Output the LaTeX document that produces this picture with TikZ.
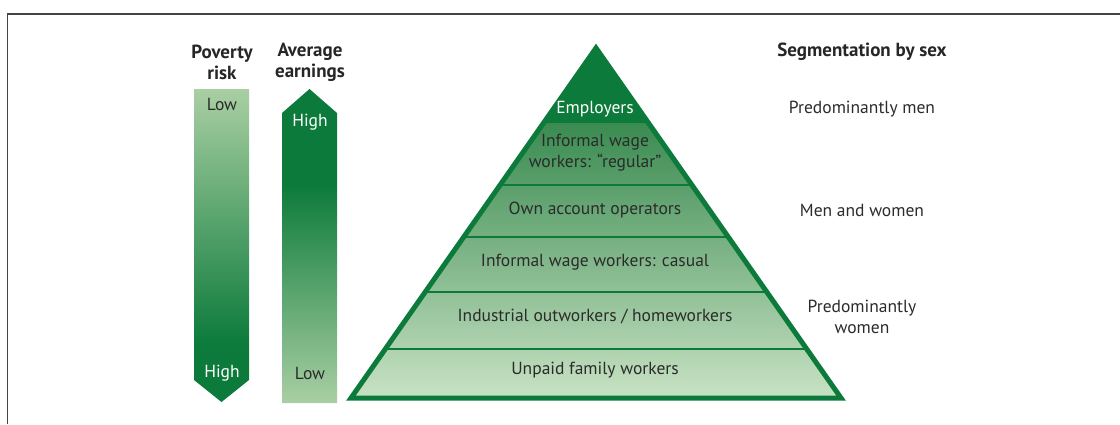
\documentclass[tikz,border=0pt]{standalone}
\usepackage{fontspec}
\setmainfont{PT Sans}
\usetikzlibrary{calc}
\definecolor{dkgreen}{HTML}{0B7A3A}
\definecolor{ltgreen}{HTML}{A9CFA3}
\definecolor{midgreen}{HTML}{3A8B51}
\definecolor{palegreen}{HTML}{C8E2C3}
\definecolor{txtgray}{HTML}{2B2B2B}
\definecolor{framegray}{HTML}{444444}
\pgfdeclareverticalshading{povshade}{100bp}{color(0bp)=(dkgreen); color(25bp)=(dkgreen); color(34bp)=(dkgreen); color(75bp)=(ltgreen); color(100bp)=(ltgreen)}
\pgfdeclareverticalshading{earnshade}{100bp}{color(0bp)=(ltgreen); color(25bp)=(ltgreen); color(60bp)=(dkgreen); color(100bp)=(dkgreen)}
\begin{document}
\begin{tikzpicture}[x=1pt, y=-1pt,
    txt/.style={text=txtgray, inner sep=0pt, align=center, font=\fontsize{17.5}{21}\selectfont},
    head/.style={txt, text=black!85, font=\fontsize{19}{21}\selectfont\bfseries},
    bandline/.style={dkgreen, line width=2pt},
    rim/.style={dkgreen, line width=5pt, line join=miter}]
    \useasboundingbox (0,0) rectangle (1120,424);
    \draw [framegray, line width=1.5pt] (7.5,424) -- (7.5,14) -- (1120,14);

    % bars
    \shade [shading=povshade] (194,89) -- (249,89) -- (249,380) -- (221.5,402) -- (194,380) -- cycle;
    \shade [shading=earnshade] (282,403) -- (282,113) -- (309.5,89) -- (337,113) -- (337,403) -- cycle;

    \node [head] (P) at (222,62.5) {Poverty\\risk};
    \node [head] (E) at (310,62.5) {Average\\earnings};
    \node [txt] (P1) at (222,104) {Low};
    \node [txt, text=white] (P2) at (222,373) {High};
    \node [txt, text=white] (E1) at (310,122) {High};
    \node [txt] (E2) at (310,373) {Low};

    % pyramid
    \coordinate (T) at (596,48);
    \coordinate (L) at (351,398);
    \coordinate (R) at (841,398);
    \shade [top color=midgreen, bottom color=palegreen] ($(T)!0.2114!(L)$) -- ($(T)!0.2114!(R)$) -- (R) -- (L) -- cycle;
    \fill [dkgreen] (T) -- ($(T)!0.2114!(R)$) -- ($(T)!0.2114!(L)$) -- cycle;
    \foreach \t in {0.2114,0.3914,0.54,0.6971,0.86}
        \draw [bandline] ($(T)!\t!(L)$) -- ($(T)!\t!(R)$);
    \draw [rim] (T) -- (R) -- (L) -- cycle;

    \node [txt, text=white] (B1) at (595,109) {Employers};
    \node [txt] (B2) at (595,152.5) {Informal wage\\workers: “regular”};
    \node [txt] (B3) at (595,210) {Own account operators};
    \node [txt] (B4) at (595,262) {Informal wage workers: casual};
    \node [txt] (B5) at (595,316) {Industrial outworkers / homeworkers};
    \node [txt] (B6) at (595,370) {Unpaid family workers};

    \node [head] (S) at (862,52) {Segmentation by sex};
    \node [txt] (S1) at (862,109) {Predominantly men};
    \node [txt] (S2) at (862,210) {Men and women};
    \node [txt] (S3) at (862,317) {Predominantly\\women};
\end{tikzpicture}
\end{document}
